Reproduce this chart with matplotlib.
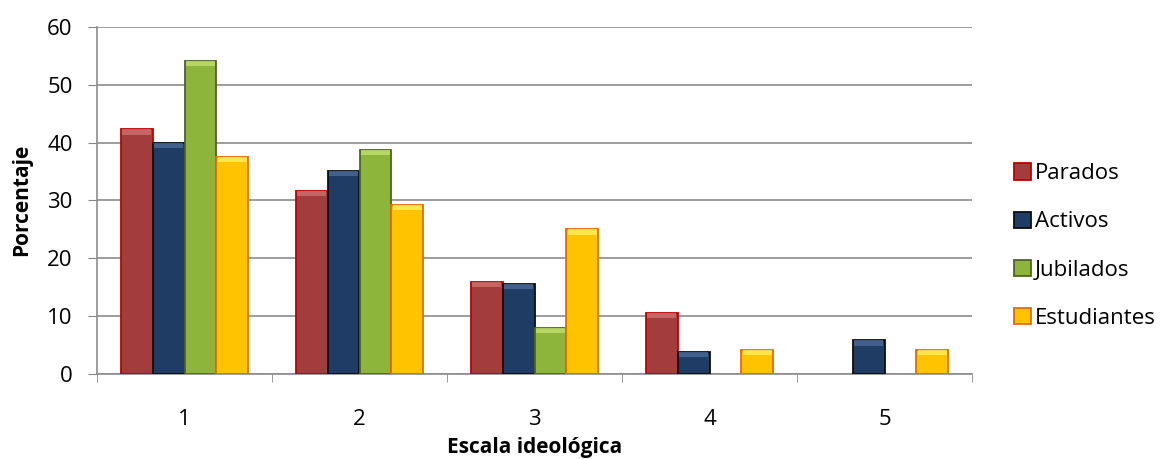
import matplotlib
matplotlib.use("Agg")
import matplotlib.pyplot as plt
import numpy as np
from matplotlib.patches import Patch

categories = ["1", "2", "3", "4", "5"]
series_names = ["Parados", "Activos", "Jubilados", "Estudiantes"]
parados = [42.3, 31.7, 15.9, 10.5, 0]
activos = [39.9, 35.1, 15.6, 3.8, 5.8]
jubilados = [54.1, 38.7, 8.0, 0, 0]
estudiantes = [37.6, 29.3, 25.0, 4.2, 4.2]
yticks = [0, 10, 20, 30, 40, 50, 60]

series = [parados, activos, jubilados, estudiantes]
fills = ["#a33d3d", "#1f3c64", "#8db53c", "#ffc300"]
edges = ["#c00000", "#0d0d0d", "#4f6228", "#e26b0a"]
highlights = ["#d07070", "#4a6a98", "#c2e070", "#fff060"]

plt.rcParams['font.family'] = ['Open Sans', 'DejaVu Sans']

fig = plt.figure(figsize=(11.65, 4.59), dpi=100)
ax = fig.add_axes([97/1165, 1-374/459, 875/1165, 347/459])

n = len(series)
bw = 1/(n+1.5)
x = np.arange(len(categories))
for i, (vals, fc, ec, hc) in enumerate(zip(series, fills, edges, highlights)):
    pos = x + (i - (n-1)/2)*bw
    v = np.array(vals, dtype=float)
    mask = v > 0
    ax.bar(pos[mask], v[mask], width=bw, color=fc, edgecolor=ec, linewidth=1.3, zorder=3)
    hh = np.minimum(v[mask], 0.9)
    ax.bar(pos[mask], hh, bottom=v[mask]-hh, width=bw*0.92, color=hc, linewidth=0, zorder=4, alpha=0.8)

ax.set_xlim(-0.5, len(categories)-0.5)
ax.set_ylim(0, 60)
ax.set_yticks(yticks)
ax.set_yticklabels([str(t) for t in yticks], fontsize=16)
ax.set_xticks(x)
ax.set_xticklabels(categories, fontsize=16)
ax.set_xticks(np.arange(len(categories)+1)-0.5, minor=True)
ax.tick_params(axis='x', which='major', length=0, pad=25)
ax.tick_params(axis='x', which='minor', length=6, color='#888888', direction='out')
ax.tick_params(axis='y', length=6.5, color='#888888', direction='out', pad=11)
ax.grid(axis='y', color='#8c8c8c', linewidth=1.2, zorder=0)
for s in ['top', 'right']:
    ax.spines[s].set_visible(False)
ax.spines['left'].set_color('#8c8c8c')
ax.spines['bottom'].set_color('#8c8c8c')
ax.spines['left'].set_linewidth(1.2)
ax.spines['bottom'].set_linewidth(1.2)

fig.text(22/1165, 1-200/459, "Porcentaje", rotation=90, fontsize=15, fontweight='bold',
         ha='center', va='center')
fig.text(534.5/1165, 1-453/459, "Escala ideológica", fontsize=15, fontweight='bold',
         ha='center', va='baseline')

handles = [Patch(facecolor=fc, edgecolor=ec, linewidth=1.3) for fc, ec in zip(fills, edges)]
leg = fig.legend(handles, series_names, loc='center left', bbox_to_anchor=(1014/1165, 1-246/459),
                 frameon=False, fontsize=16, handlelength=0.75, handleheight=0.75,
                 handletextpad=0.2, labelspacing=1.22, borderaxespad=0, borderpad=0)

fig.savefig("out.png", dpi=100)
